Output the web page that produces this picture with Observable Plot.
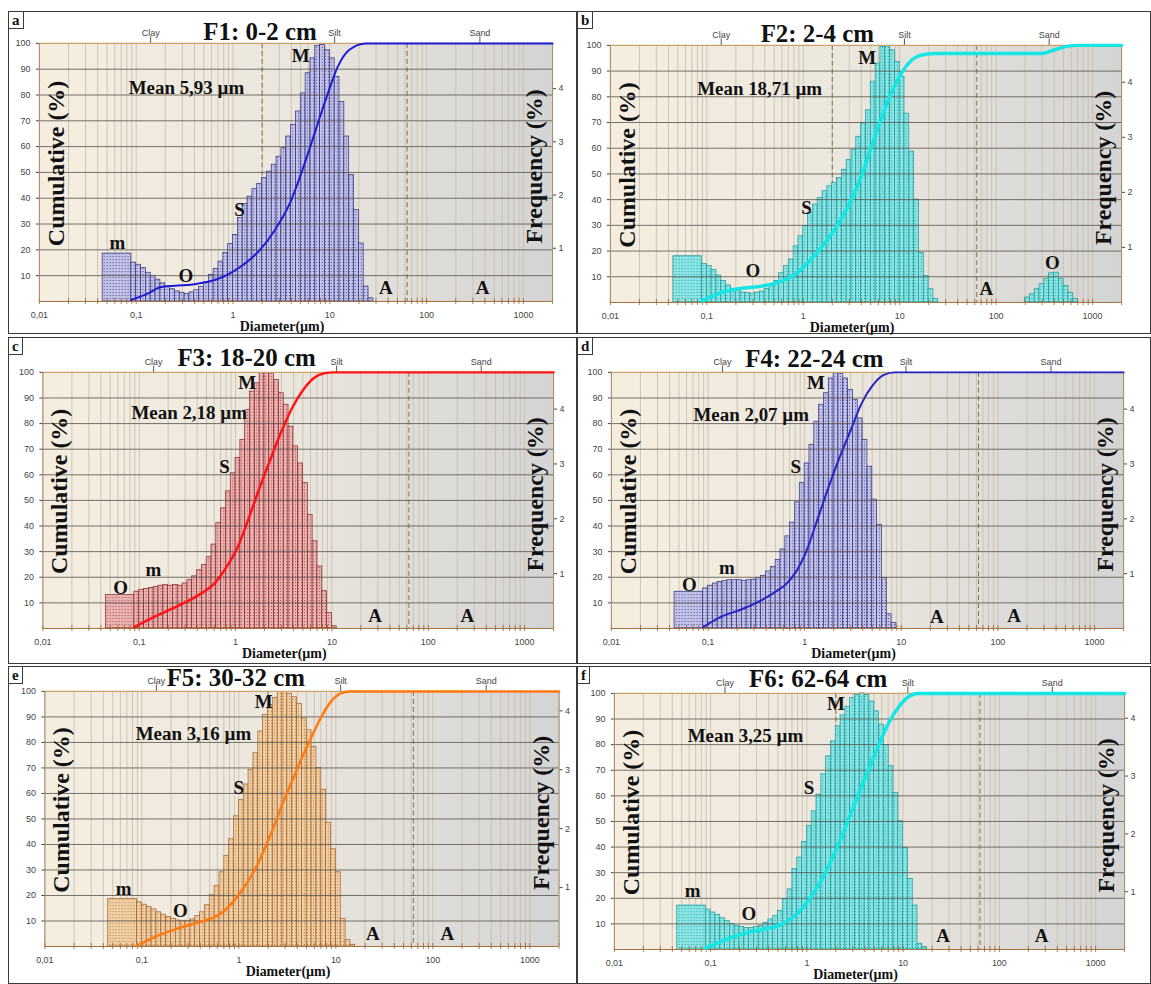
<!DOCTYPE html>
<html><head><meta charset="utf-8">
<script src="https://cdn.jsdelivr.net/npm/d3@7"></script>
<script src="https://cdn.jsdelivr.net/npm/@observablehq/plot@0.6"></script>
<style>
body{margin:0;background:#fff;}
#fig{position:relative;width:1151px;height:984px;overflow:hidden;background:#fff;}
.panel{position:absolute;border:1px solid #3a3a3a;box-sizing:border-box;}
.tag{position:absolute;left:-1px;top:-1px;border:1px solid #3a3a3a;font:bold 15px "Liberation Serif",serif;padding:0 3px;line-height:16px;background:#fff;color:#111;}
</style></head><body>
<svg width="0" height="0" style="position:absolute">
<defs>
<linearGradient id="bgGrad" x1="0" y1="0" x2="1" y2="0">
<stop offset="0" stop-color="#f5eee0"/>
<stop offset="0.45" stop-color="#ece7de"/>
<stop offset="1" stop-color="#d4d4d4"/>
</linearGradient>
<pattern id="patBlue" width="3" height="3" patternUnits="userSpaceOnUse"><rect width="3" height="3" fill="#c2c2e6"/><rect width="1" height="1" fill="#4a4a9c"/></pattern>
<pattern id="patCyan" width="3" height="3" patternUnits="userSpaceOnUse"><rect width="3" height="3" fill="#8ce4e4"/><rect width="1" height="1" fill="#22a6a6"/></pattern>
<pattern id="patRed" width="3" height="3" patternUnits="userSpaceOnUse"><rect width="3" height="3" fill="#eab3b3"/><rect width="1" height="1" fill="#a84646"/></pattern>
<pattern id="patOrange" width="3" height="3" patternUnits="userSpaceOnUse"><rect width="3" height="3" fill="#f1cfa6"/><rect width="1" height="1" fill="#b87c40"/></pattern>
</defs></svg>
<div id="fig"></div>
<script>
// ---------- size classes (µm), shared by all samples ----------
const classEdges = [0.045, 0.0891, 0.1, 0.1122, 0.1259, 0.1413, 0.1585, 0.1778, 0.1995, 0.2239, 0.2512,
  0.2818, 0.3162, 0.3548, 0.3981, 0.4467, 0.5012, 0.5623, 0.631, 0.7079, 0.7943, 0.8913,
  1, 1.122, 1.259, 1.413, 1.585, 1.778, 1.995, 2.239, 2.512, 2.818, 3.162, 3.548, 3.981, 4.467, 5.012, 5.623, 6.31, 7.079, 7.943, 8.913,
  10, 11.22, 12.59, 14.13, 15.85, 17.78, 19.95, 22.39, 25.12, 28.18, 31.62, 35.48, 39.81, 44.67, 50.12, 56.23, 63.1, 70.79, 79.43, 89.13,
  100, 112.2, 125.9, 141.3, 158.5, 177.8, 199.5, 223.9, 251.2, 281.8, 316.2, 354.8, 398.1, 446.7, 501.2, 562.3, 631, 707.9, 794.3, 891.3, 1000];

const xTicks = [0.01, 0.1, 1, 10, 100, 1000];
const xTickLabels = ["0,01", "0,1", "1", "10", "100", "1000"];
const cumTicks = [10, 20, 30, 40, 50, 60, 70, 80, 90, 100];
const freqTicks = [1, 2, 3, 4];
const zoneNames = ["Clay", "Silt", "Sand"];
const zoneCenters = [0.141, 11.2, 355];
const zoneBounds = [2, 63];

const panelLetters = ["a", "b", "c", "d", "e", "f"];
const panelTitles = ["F1: 0-2 cm", "F2: 2-4 cm", "F3: 18-20 cm", "F4: 22-24 cm", "F5: 30-32 cm", "F6: 62-64 cm"];
const meanLabels = ["Mean 5,93 µm", "Mean 18,71 µm", "Mean 2,18 µm", "Mean 2,07 µm", "Mean 3,16 µm", "Mean 3,25 µm"];
const freqTop = [4.85, 4.67, 4.67, 4.67, 4.33, 4.43];

// ---------- frequency (%) per size class ----------
const freqA = [0.90, 0.73,0.69,0.63,0.54,0.48,0.41,0.34,0.28,0.23,0.19, 0.16,0.14,0.17,0.21,0.27,0.36,0.50,0.61,0.75,0.91,
  1.08,1.25,1.57,1.83,1.97,2.11,2.21,2.32,2.44,2.57, 2.72,2.88,3.10,3.32,3.57,3.91,4.29,4.57,4.80,4.82,
  4.72,4.57,4.22,3.75,3.10,2.38,1.72,1.09,0.28,0.06];
const freqB = [0.84, 0.70,0.66,0.59,0.49,0.39,0.31,0.25,0.21,0.18,0.17, 0.16,0.18,0.20,0.25,0.31,0.39,0.53,0.66,0.78,1.02,
  1.20,1.39,1.63,1.78,1.90,2.02,2.11,2.17,2.26,2.41, 2.59,2.77,3.01,3.25,3.49,4.01,4.34,4.64,4.65,4.58,
  4.37,4.10,3.43,2.74,1.87,0.90,0.48,0.24,0.06, 0,0,0,0,0,0,0,0,0,0,0,0,0,0,0,0,0,0,
  0.09,0.15,0.24,0.33,0.43,0.53,0.54,0.43,0.30,0.17,0.06];
const freqC = [0.61, 0.67,0.70,0.72,0.74,0.76,0.78,0.79,0.78,0.79,0.78, 0.82,0.88,0.95,1.06,1.16,1.30,1.53,1.92,2.19,2.50,
  2.83,3.11,3.44,3.98,4.32,4.47,4.66,4.66,4.65,4.53, 4.29,4.08,3.68,3.32,3.01,2.65,2.07,1.59,1.13,0.68, 0.28,0.04];
const freqD = [0.67, 0.73,0.78,0.82,0.85,0.87,0.88,0.88,0.88,0.87,0.88, 0.89,0.92,0.96,1.04,1.12,1.25,1.44,1.68,1.93,2.30,
  2.65,3.01,3.35,3.77,4.08,4.29,4.56,4.66,4.65,4.56, 4.35,4.17,3.83,3.44,2.95,2.35,1.89,0.92,0.26,0.10];
const freqE = [0.81, 0.75,0.71,0.67,0.63,0.58,0.54,0.50,0.47,0.44,0.43, 0.43,0.46,0.52,0.58,0.70,0.87,1.03,1.26,1.54,1.82,
  2.21,2.49,2.75,3.00,3.28,3.65,3.93,4.10,4.22,4.32, 4.32,4.29,4.23,4.12,3.87,3.67,3.39,3.03,2.66,2.10, 1.65,1.26,0.47,0.11,0.03];
const freqF = [0.76, 0.69,0.64,0.60,0.54,0.49,0.44,0.41,0.39,0.37,0.37, 0.39,0.41,0.46,0.52,0.58,0.67,0.87,1.04,1.39,1.59,
  1.86,2.14,2.39,2.68,3.03,3.34,3.60,3.86,4.05,4.20, 4.35,4.40,4.43,4.40,4.29,4.12,3.89,3.54,3.17,2.71, 2.22,1.76,1.22,0.76,0.10,0.04];

// ---------- cumulative curves [diameter µm, cumulative %] ----------
const cumA = [[0.089,0.6],[0.135,3.2],[0.176,5.5],[0.25,6.1],[0.42,6.8],[0.66,8.4],[0.94,11],[1.34,14.8],[1.9,20],[2.71,27.7],[3.86,38],[5.5,53.5],[7.15,66.5],[9.3,79.4],[12.1,91],[15.8,97.4],[23.5,100],[2000,100]];
const cumB = [[0.089,0.6],[0.144,3.9],[0.22,5.4],[0.35,6.2],[0.54,7.7],[0.83,11],[1.29,18],[2.0,27],[2.8,36],[4.0,49],[5.7,66],[8.1,81],[11.5,91.6],[16.3,96.1],[23,96.8],[295,96.8],[383,98],[540,99.6],[700,100],[2000,100]];
const cumC = [[0.089,0.5],[0.148,4.8],[0.25,8.7],[0.42,13.2],[0.6,17.5],[0.79,23.5],[1.03,31],[1.34,42],[1.74,54],[2.27,65.5],[2.96,76.5],[3.85,86],[5.0,93],[6.5,97.8],[8.5,99.7],[10.5,100],[2000,100]];
const cumD = [[0.089,0.5],[0.141,4.8],[0.22,7.4],[0.34,10.6],[0.48,13.9],[0.65,17.5],[0.81,22],[1.05,30.5],[1.37,43],[1.78,55.5],[2.31,67],[3.0,77.5],[3.9,88],[5.08,95],[6.6,99],[8.6,100],[2000,100]];
const cumE = [[0.089,0.3],[0.137,3.8],[0.23,7],[0.39,9.6],[0.56,11.5],[0.71,14],[0.89,18],[1.12,23],[1.41,29],[1.78,37],[2.24,46],[2.82,56],[3.55,65],[4.47,74],[5.6,82],[7.08,90],[8.9,96],[11.2,99.2],[14,100],[2000,100]];
const cumF = [[0.089,0.5],[0.16,4.5],[0.25,6.8],[0.4,8.3],[0.56,10],[0.71,12.5],[0.89,16],[1.12,21],[1.41,27],[1.78,34.5],[2.24,43],[2.82,52.5],[3.55,62],[4.47,71],[5.6,80],[7.08,88.5],[8.9,94.5],[11.2,98.5],[14,100],[2000,100]];

// ---------- annotations [text, diameter µm, cumulative-scale height] ----------
const notesA = [["m",0.064,22.6],["O",0.326,9.7],["S",1.17,35.5],["M",5.0,95],["A",38,5.2],["A",378,5.2]];
const notesB = [["O",0.30,12.3],["S",1.08,36.8],["M",4.6,95],["A",79,5.2],["O",382,15.5]];
const notesC = [["O",0.064,15.8],["m",0.14,23],["S",0.77,63.2],["M",1.32,96],["A",28,4.8],["A",255,4.8]];
const notesD = [["O",0.064,17.1],["m",0.157,23.6],["S",0.81,63.2],["M",1.31,96],["A",23.4,4.5],["A",147,4.8]];
const notesE = [["m",0.065,22.6],["O",0.25,13.9],["S",1.0,62.1],["M",1.8,96],["A",24,5.1],["A",141,5.1]];
const notesF = [["m",0.065,22.9],["O",0.25,13.9],["S",1.05,63],["M",2.0,96],["A",26,5.4],["A",275,5.4]];
const meanAt = [[0.33,82.6],[0.353,83.2],[0.33,84],[0.28,83.4],[0.34,83.3],[0.23,83.4]];
const titleAt = [1.9, 1.4, 1.3, 1.26, 0.93, 1.31];

const freqs = [freqA, freqB, freqC, freqD, freqE, freqF];
const cums = [cumA, cumB, cumC, cumD, cumE, cumF];
const notes = [notesA, notesB, notesC, notesD, notesE, notesF];

// ---------- layout & style ----------
const layouts = [
  {left: 8, top: 11, w: 569, h: 323, ml: 31, mr: 23, mt: 32, mb: 32, lift: 3},
  {left: 577, top: 11, w: 574, h: 323, ml: 33, mr: 28, mt: 34, mb: 31, lift: 3},
  {left: 8, top: 337, w: 569, h: 327, ml: 34.5, mr: 22, mt: 35, mb: 35, lift: 6},
  {left: 577, top: 337, w: 574, h: 327, ml: 34, mr: 26, mt: 35, mb: 35, lift: 5},
  {left: 8, top: 666, w: 569, h: 318, ml: 36.5, mr: 16.5, mt: 25, mb: 37, lift: 5},
  {left: 577, top: 666, w: 574, h: 318, ml: 37, mr: 25, mt: 27, mb: 34, lift: 6}
];
const styles = [
  {pat: "url(#patBlue)", edge: "#30307e", curve: "#1c1cd6", cw: 2},
  {pat: "url(#patCyan)", edge: "#1a9898", curve: "#14e6e6", cw: 3.5},
  {pat: "url(#patRed)", edge: "#862626", curve: "#ff1414", cw: 2.5},
  {pat: "url(#patBlue)", edge: "#30307e", curve: "#2424c8", cw: 2},
  {pat: "url(#patOrange)", edge: "#a06028", curve: "#ff7a12", cw: 2.5},
  {pat: "url(#patCyan)", edge: "#1a9898", curve: "#14e6e6", cw: 3.5}
];
const serif = "Liberation Serif, serif";
const sans = "Liberation Sans, sans-serif";
const minorTicks = d3.range(-2, 4).flatMap(e => d3.range(1, 10).map(m => +(m * Math.pow(10, e)).toPrecision(3))).filter(v => v <= 2000);
const bold = {fontWeight: "bold", fontFamily: serif, fill: "#111"};

const fig = document.getElementById("fig");
freqs.forEach((freq, k) => {
  const L = layouts[k], S = styles[k], fm = freqTop[k];
  const toF = c => c * fm / 100;
  const bars = freq.map((f, i) => ({x1: classEdges[i], x2: classEdges[i + 1], f})).filter(d => d.f > 0);
  const chart = Plot.plot({
    width: L.w, height: L.h,
    marginLeft: L.ml, marginRight: L.mr, marginTop: L.mt, marginBottom: L.mb,
    x: {type: "log", domain: [0.01, 2000]},
    y: {domain: [0, fm]},
    style: {background: "transparent", overflow: "visible"},
    marks: [
      Plot.frame({fill: "url(#bgGrad)", stroke: "none"}),
      Plot.ruleX(minorTicks, {stroke: "#c6bdab", strokeWidth: 0.8}),
      Plot.ruleX(zoneBounds, {stroke: "#86704f", strokeWidth: 1, strokeDasharray: "5,3"}),
      Plot.rectY(bars, {x1: "x1", x2: "x2", y: "f", fill: S.pat, stroke: S.edge, strokeWidth: 0.7}),
      Plot.ruleY(cumTicks.slice(0, 9).map(toF), {stroke: "#55504a", strokeOpacity: 0.8, strokeWidth: 1}),
      Plot.ruleY([fm], {stroke: "#c9a36a", strokeWidth: 1.2}),
      Plot.ruleY([0], {stroke: "#a07040", strokeWidth: 1}),
      Plot.ruleX(minorTicks, {y1: -fm * 0.012, y2: fm * 0.012, stroke: "#a0622a", strokeWidth: 0.8}),
      Plot.ruleX([0.01, 2000], {stroke: "#a88c68", strokeWidth: 1}),
      Plot.ruleX(zoneCenters, {y1: fm, y2: fm * 1.025, stroke: "#555", strokeWidth: 1}),
      Plot.line(cums[k], {x: d => d[0], y: d => toF(d[1]), stroke: S.curve, strokeWidth: S.cw, curve: "monotone-x"}),
      Plot.text(notes[k], {x: d => d[1], y: d => toF(d[2]), text: d => d[0], fontSize: 19, ...bold}),
      Plot.text([meanLabels[k]], {x: () => meanAt[k][0], y: () => toF(meanAt[k][1]), fontSize: 19, ...bold}),
      Plot.text([panelTitles[k]], {x: () => titleAt[k], frameAnchor: "top", lineAnchor: "bottom", dy: -L.lift, fontSize: 25, ...bold}),
      Plot.text(zoneNames, {x: (d, i) => zoneCenters[i], frameAnchor: "top", dy: -14, fontSize: 9, fontFamily: sans, fill: "#444"}),
      Plot.text(["Cumulative (%)"], {frameAnchor: "left", textAnchor: "middle", lineAnchor: "middle", dx: 17, dy: -9, rotate: -90, fontSize: 24, ...bold}),
      Plot.text(["Frequency (%)"], {frameAnchor: "right", textAnchor: "middle", lineAnchor: "middle", dx: -18, dy: -6, rotate: -90, fontSize: 24, ...bold}),
      Plot.text(["Diameter(µm)"], {frameAnchor: "bottom", lineAnchor: "middle", dx: -14, dy: 25, fontSize: 14, ...bold}),
      Plot.axisX({ticks: xTicks, tickFormat: d => xTickLabels[xTicks.indexOf(d)], tickSize: 0, tickPadding: 10, fontSize: 9, fontFamily: sans, color: "#444", label: null}),
      Plot.axisY({anchor: "left", ticks: cumTicks.map(toF), tickFormat: d => String(Math.round(d * 100 / fm)), tickSize: 3, tickPadding: 6, fontSize: 9, fontFamily: sans, color: "#444", label: null}),
      Plot.axisY({anchor: "right", ticks: freqTicks, tickFormat: d => String(d), tickSize: 3, tickPadding: 3, fontSize: 9, fontFamily: sans, color: "#444", label: null})
    ]
  });
  const div = document.createElement("div");
  div.className = "panel";
  Object.assign(div.style, {left: L.left + "px", top: L.top + "px", width: L.w + "px", height: L.h + "px"});
  chart.style.position = "absolute";
  chart.style.left = "-1px";
  chart.style.top = "-1px";
  div.appendChild(chart);
  const tag = document.createElement("div");
  tag.className = "tag";
  tag.textContent = panelLetters[k];
  div.appendChild(tag);
  fig.appendChild(div);
});
</script>
</body></html>
